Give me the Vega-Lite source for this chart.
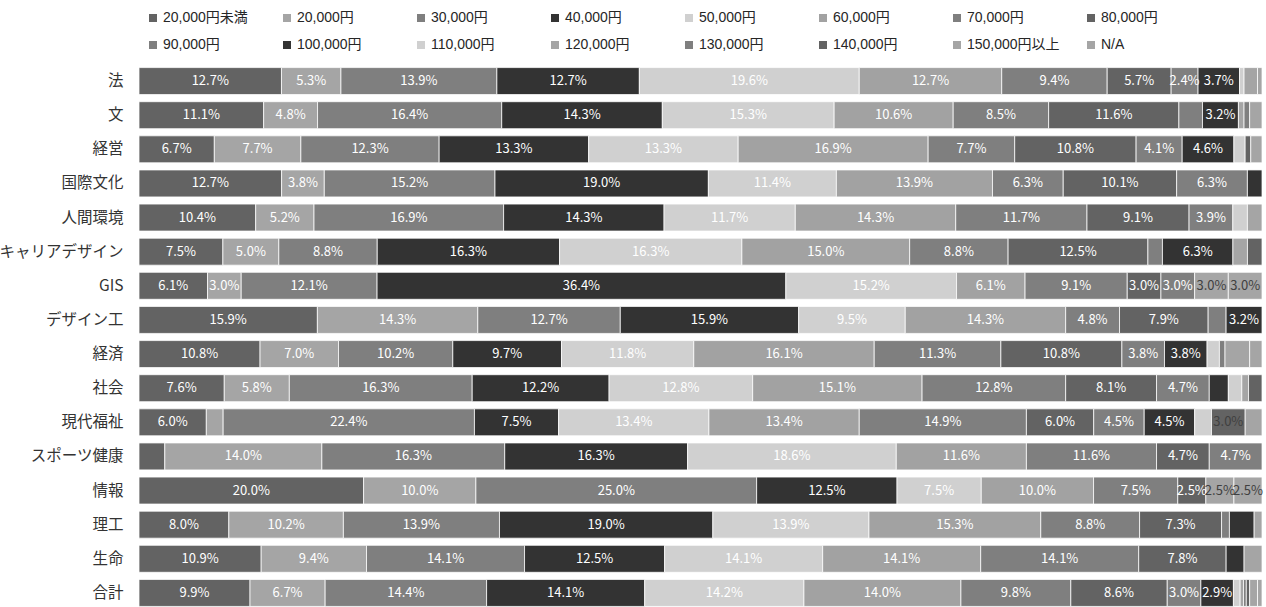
{
  "$schema": "https://vega.github.io/schema/vega-lite/v6.json",
  "width": 1123,
  "height": 546,
  "autosize": {"type": "none"},
  "padding": {"left": 139, "top": 64, "right": 4, "bottom": 0},
  "background": "white",
  "config": {"view": {"stroke": null}, "font": "Noto Sans CJK JP"},
  "data": {"values": [
    {"d":"法","i":0,"b":"20,000円未満","p":0.127},{"d":"法","i":1,"b":"20,000円","p":0.053},{"d":"法","i":2,"b":"30,000円","p":0.139},{"d":"法","i":3,"b":"40,000円","p":0.127},{"d":"法","i":4,"b":"50,000円","p":0.196},{"d":"法","i":5,"b":"60,000円","p":0.127},{"d":"法","i":6,"b":"70,000円","p":0.094},{"d":"法","i":7,"b":"80,000円","p":0.057},{"d":"法","i":8,"b":"90,000円","p":0.024},{"d":"法","i":9,"b":"100,000円","p":0.037},{"d":"法","i":10,"b":"110,000円","p":0.004},{"d":"法","i":11,"b":"120,000円","p":0.012},{"d":"法","i":15,"b":"N/A","p":0.004},
    {"d":"文","i":0,"b":"20,000円未満","p":0.111},{"d":"文","i":1,"b":"20,000円","p":0.048},{"d":"文","i":2,"b":"30,000円","p":0.164},{"d":"文","i":3,"b":"40,000円","p":0.143},{"d":"文","i":4,"b":"50,000円","p":0.153},{"d":"文","i":5,"b":"60,000円","p":0.106},{"d":"文","i":6,"b":"70,000円","p":0.085},{"d":"文","i":7,"b":"80,000円","p":0.116},{"d":"文","i":8,"b":"90,000円","p":0.021},{"d":"文","i":9,"b":"100,000円","p":0.032},{"d":"文","i":11,"b":"120,000円","p":0.005},{"d":"文","i":12,"b":"130,000円","p":0.005},{"d":"文","i":15,"b":"N/A","p":0.011},
    {"d":"経営","i":0,"b":"20,000円未満","p":0.067},{"d":"経営","i":1,"b":"20,000円","p":0.077},{"d":"経営","i":2,"b":"30,000円","p":0.123},{"d":"経営","i":3,"b":"40,000円","p":0.133},{"d":"経営","i":4,"b":"50,000円","p":0.133},{"d":"経営","i":5,"b":"60,000円","p":0.169},{"d":"経営","i":6,"b":"70,000円","p":0.077},{"d":"経営","i":7,"b":"80,000円","p":0.108},{"d":"経営","i":8,"b":"90,000円","p":0.041},{"d":"経営","i":9,"b":"100,000円","p":0.046},{"d":"経営","i":10,"b":"110,000円","p":0.010},{"d":"経営","i":13,"b":"140,000円","p":0.005},{"d":"経営","i":15,"b":"N/A","p":0.010},
    {"d":"国際文化","i":0,"b":"20,000円未満","p":0.127},{"d":"国際文化","i":1,"b":"20,000円","p":0.038},{"d":"国際文化","i":2,"b":"30,000円","p":0.152},{"d":"国際文化","i":3,"b":"40,000円","p":0.190},{"d":"国際文化","i":4,"b":"50,000円","p":0.114},{"d":"国際文化","i":5,"b":"60,000円","p":0.139},{"d":"国際文化","i":6,"b":"70,000円","p":0.063},{"d":"国際文化","i":7,"b":"80,000円","p":0.101},{"d":"国際文化","i":8,"b":"90,000円","p":0.063},{"d":"国際文化","i":9,"b":"100,000円","p":0.013},
    {"d":"人間環境","i":0,"b":"20,000円未満","p":0.104},{"d":"人間環境","i":1,"b":"20,000円","p":0.052},{"d":"人間環境","i":2,"b":"30,000円","p":0.169},{"d":"人間環境","i":3,"b":"40,000円","p":0.143},{"d":"人間環境","i":4,"b":"50,000円","p":0.117},{"d":"人間環境","i":5,"b":"60,000円","p":0.143},{"d":"人間環境","i":6,"b":"70,000円","p":0.117},{"d":"人間環境","i":7,"b":"80,000円","p":0.091},{"d":"人間環境","i":8,"b":"90,000円","p":0.039},{"d":"人間環境","i":10,"b":"110,000円","p":0.013},{"d":"人間環境","i":15,"b":"N/A","p":0.013},
    {"d":"キャリアデザイン","i":0,"b":"20,000円未満","p":0.075},{"d":"キャリアデザイン","i":1,"b":"20,000円","p":0.050},{"d":"キャリアデザイン","i":2,"b":"30,000円","p":0.088},{"d":"キャリアデザイン","i":3,"b":"40,000円","p":0.163},{"d":"キャリアデザイン","i":4,"b":"50,000円","p":0.163},{"d":"キャリアデザイン","i":5,"b":"60,000円","p":0.150},{"d":"キャリアデザイン","i":6,"b":"70,000円","p":0.088},{"d":"キャリアデザイン","i":7,"b":"80,000円","p":0.125},{"d":"キャリアデザイン","i":8,"b":"90,000円","p":0.013},{"d":"キャリアデザイン","i":9,"b":"100,000円","p":0.063},{"d":"キャリアデザイン","i":11,"b":"120,000円","p":0.013},{"d":"キャリアデザイン","i":13,"b":"140,000円","p":0.013},
    {"d":"GIS","i":0,"b":"20,000円未満","p":0.061},{"d":"GIS","i":1,"b":"20,000円","p":0.030},{"d":"GIS","i":2,"b":"30,000円","p":0.121},{"d":"GIS","i":3,"b":"40,000円","p":0.364},{"d":"GIS","i":4,"b":"50,000円","p":0.152},{"d":"GIS","i":5,"b":"60,000円","p":0.061},{"d":"GIS","i":6,"b":"70,000円","p":0.091},{"d":"GIS","i":7,"b":"80,000円","p":0.030},{"d":"GIS","i":8,"b":"90,000円","p":0.030},{"d":"GIS","i":14,"b":"150,000円以上","p":0.030},{"d":"GIS","i":15,"b":"N/A","p":0.030},
    {"d":"デザイン工","i":0,"b":"20,000円未満","p":0.159},{"d":"デザイン工","i":1,"b":"20,000円","p":0.143},{"d":"デザイン工","i":2,"b":"30,000円","p":0.127},{"d":"デザイン工","i":3,"b":"40,000円","p":0.159},{"d":"デザイン工","i":4,"b":"50,000円","p":0.095},{"d":"デザイン工","i":5,"b":"60,000円","p":0.143},{"d":"デザイン工","i":6,"b":"70,000円","p":0.048},{"d":"デザイン工","i":7,"b":"80,000円","p":0.079},{"d":"デザイン工","i":8,"b":"90,000円","p":0.016},{"d":"デザイン工","i":9,"b":"100,000円","p":0.032},
    {"d":"経済","i":0,"b":"20,000円未満","p":0.108},{"d":"経済","i":1,"b":"20,000円","p":0.070},{"d":"経済","i":2,"b":"30,000円","p":0.102},{"d":"経済","i":3,"b":"40,000円","p":0.097},{"d":"経済","i":4,"b":"50,000円","p":0.118},{"d":"経済","i":5,"b":"60,000円","p":0.161},{"d":"経済","i":6,"b":"70,000円","p":0.113},{"d":"経済","i":7,"b":"80,000円","p":0.108},{"d":"経済","i":8,"b":"90,000円","p":0.038},{"d":"経済","i":9,"b":"100,000円","p":0.038},{"d":"経済","i":10,"b":"110,000円","p":0.011},{"d":"経済","i":12,"b":"130,000円","p":0.005},{"d":"経済","i":14,"b":"150,000円以上","p":0.022},{"d":"経済","i":15,"b":"N/A","p":0.011},
    {"d":"社会","i":0,"b":"20,000円未満","p":0.076},{"d":"社会","i":1,"b":"20,000円","p":0.058},{"d":"社会","i":2,"b":"30,000円","p":0.163},{"d":"社会","i":3,"b":"40,000円","p":0.122},{"d":"社会","i":4,"b":"50,000円","p":0.128},{"d":"社会","i":5,"b":"60,000円","p":0.151},{"d":"社会","i":6,"b":"70,000円","p":0.128},{"d":"社会","i":7,"b":"80,000円","p":0.081},{"d":"社会","i":8,"b":"90,000円","p":0.047},{"d":"社会","i":9,"b":"100,000円","p":0.017},{"d":"社会","i":10,"b":"110,000円","p":0.012},{"d":"社会","i":11,"b":"120,000円","p":0.006},{"d":"社会","i":13,"b":"140,000円","p":0.012},
    {"d":"現代福祉","i":0,"b":"20,000円未満","p":0.060},{"d":"現代福祉","i":1,"b":"20,000円","p":0.015},{"d":"現代福祉","i":2,"b":"30,000円","p":0.224},{"d":"現代福祉","i":3,"b":"40,000円","p":0.075},{"d":"現代福祉","i":4,"b":"50,000円","p":0.134},{"d":"現代福祉","i":5,"b":"60,000円","p":0.134},{"d":"現代福祉","i":6,"b":"70,000円","p":0.149},{"d":"現代福祉","i":7,"b":"80,000円","p":0.060},{"d":"現代福祉","i":8,"b":"90,000円","p":0.045},{"d":"現代福祉","i":9,"b":"100,000円","p":0.045},{"d":"現代福祉","i":10,"b":"110,000円","p":0.015},{"d":"現代福祉","i":13,"b":"140,000円","p":0.030},{"d":"現代福祉","i":15,"b":"N/A","p":0.015},
    {"d":"スポーツ健康","i":0,"b":"20,000円未満","p":0.023},{"d":"スポーツ健康","i":1,"b":"20,000円","p":0.140},{"d":"スポーツ健康","i":2,"b":"30,000円","p":0.163},{"d":"スポーツ健康","i":3,"b":"40,000円","p":0.163},{"d":"スポーツ健康","i":4,"b":"50,000円","p":0.186},{"d":"スポーツ健康","i":5,"b":"60,000円","p":0.116},{"d":"スポーツ健康","i":6,"b":"70,000円","p":0.116},{"d":"スポーツ健康","i":7,"b":"80,000円","p":0.047},{"d":"スポーツ健康","i":8,"b":"90,000円","p":0.047},
    {"d":"情報","i":0,"b":"20,000円未満","p":0.200},{"d":"情報","i":1,"b":"20,000円","p":0.100},{"d":"情報","i":2,"b":"30,000円","p":0.250},{"d":"情報","i":3,"b":"40,000円","p":0.125},{"d":"情報","i":4,"b":"50,000円","p":0.075},{"d":"情報","i":5,"b":"60,000円","p":0.100},{"d":"情報","i":6,"b":"70,000円","p":0.075},{"d":"情報","i":7,"b":"80,000円","p":0.025},{"d":"情報","i":14,"b":"150,000円以上","p":0.025},{"d":"情報","i":15,"b":"N/A","p":0.025},
    {"d":"理工","i":0,"b":"20,000円未満","p":0.080},{"d":"理工","i":1,"b":"20,000円","p":0.102},{"d":"理工","i":2,"b":"30,000円","p":0.139},{"d":"理工","i":3,"b":"40,000円","p":0.190},{"d":"理工","i":4,"b":"50,000円","p":0.139},{"d":"理工","i":5,"b":"60,000円","p":0.153},{"d":"理工","i":6,"b":"70,000円","p":0.088},{"d":"理工","i":7,"b":"80,000円","p":0.073},{"d":"理工","i":8,"b":"90,000円","p":0.007},{"d":"理工","i":9,"b":"100,000円","p":0.022},{"d":"理工","i":15,"b":"N/A","p":0.007},
    {"d":"生命","i":0,"b":"20,000円未満","p":0.109},{"d":"生命","i":1,"b":"20,000円","p":0.094},{"d":"生命","i":2,"b":"30,000円","p":0.141},{"d":"生命","i":3,"b":"40,000円","p":0.125},{"d":"生命","i":4,"b":"50,000円","p":0.141},{"d":"生命","i":5,"b":"60,000円","p":0.141},{"d":"生命","i":6,"b":"70,000円","p":0.141},{"d":"生命","i":7,"b":"80,000円","p":0.078},{"d":"生命","i":9,"b":"100,000円","p":0.016},{"d":"生命","i":15,"b":"N/A","p":0.016},
    {"d":"合計","i":0,"b":"20,000円未満","p":0.099},{"d":"合計","i":1,"b":"20,000円","p":0.067},{"d":"合計","i":2,"b":"30,000円","p":0.144},{"d":"合計","i":3,"b":"40,000円","p":0.141},{"d":"合計","i":4,"b":"50,000円","p":0.142},{"d":"合計","i":5,"b":"60,000円","p":0.140},{"d":"合計","i":6,"b":"70,000円","p":0.098},{"d":"合計","i":7,"b":"80,000円","p":0.086},{"d":"合計","i":8,"b":"90,000円","p":0.030},{"d":"合計","i":9,"b":"100,000円","p":0.029},{"d":"合計","i":10,"b":"110,000円","p":0.006},{"d":"合計","i":11,"b":"120,000円","p":0.003},{"d":"合計","i":12,"b":"130,000円","p":0.0025},{"d":"合計","i":13,"b":"140,000円","p":0.003},{"d":"合計","i":14,"b":"150,000円以上","p":0.007},{"d":"合計","i":15,"b":"N/A","p":0.004}
  ]},
  "encoding": {
    "y": {
      "field": "d", "type": "nominal", "sort": null, "title": null,
      "scale": {"paddingInner": 0.21, "paddingOuter": 0.105},
      "axis": {"domain": false, "ticks": false, "labelFontSize": 15.5, "labelPadding": 16, "labelColor": "#333333", "labelFont": "Noto Sans CJK JP", "labelLimit": 300}
    },
    "x": {"field": "p", "type": "quantitative", "stack": "normalize", "axis": null},
    "order": {"field": "i", "type": "quantitative"}
  },
  "layer": [
    {
      "mark": {"type": "bar", "stroke": "white", "strokeWidth": 0.75},
      "encoding": {
        "color": {
          "field": "b", "type": "nominal",
          "scale": {
            "domain": ["20,000円未満","20,000円","30,000円","40,000円","50,000円","60,000円","70,000円","80,000円","90,000円","100,000円","110,000円","120,000円","130,000円","140,000円","150,000円以上","N/A"],
            "range": ["#636363","#a5a5a5","#7f7f7f","#333333","#d0d0d0","#a2a2a2","#7f7f7f","#636363","#7f7f7f","#333333","#d0d0d0","#a5a5a5","#7f7f7f","#636363","#a5a5a5","#a5a5a5"]
          },
          "legend": {
            "title": null, "orient": "none", "legendX": 7, "legendY": -53,
            "direction": "horizontal", "columns": 8, "gridAlign": "all",
            "symbolType": "square", "symbolSize": 64, "symbolStrokeWidth": 0,
            "labelFontSize": 14, "labelFont": "Liberation Sans, Noto Sans CJK JP", "labelColor": "#262626",
            "labelOffset": 3, "columnPadding": 24, "rowPadding": 13, "labelLimit": 300
          }
        }
      }
    },
    {
      "mark": {"type": "text", "fontSize": 13, "font": "Noto Sans CJK JP", "baseline": "middle", "align": "center"},
      "encoding": {
        "x": {"field": "p", "type": "quantitative", "stack": "normalize", "bandPosition": 0.5},
        "detail": {"field": "b", "type": "nominal"},
        "text": {"condition": {"test": "datum.p >= 0.0235", "field": "p", "type": "quantitative", "format": ".1%"}, "value": ""},
        "color": {"condition": {"test": "datum.i >= 13", "value": "#404040"}, "value": "#ffffff"}
      }
    }
  ]
}
